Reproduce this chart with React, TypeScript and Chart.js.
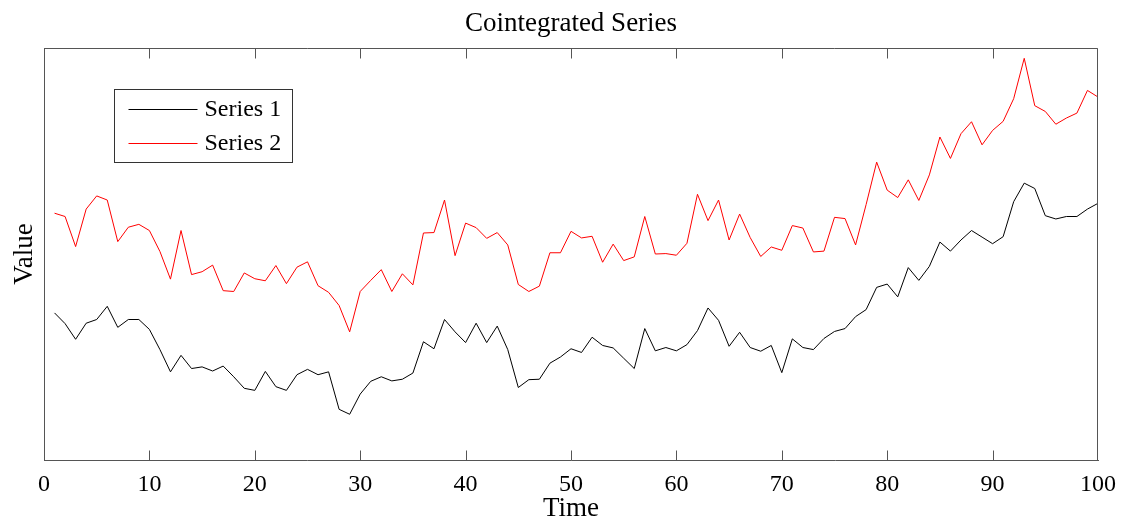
import { useEffect, useRef } from "react";
import { Chart, registerables } from "chart.js";

Chart.register(...registerables);

const timeSteps = [
  1, 2, 3, 4, 5, 6, 7, 8, 9, 10, 11, 12, 13, 14, 15, 16, 17, 18, 19, 20,
  21, 22, 23, 24, 25, 26, 27, 28, 29, 30, 31, 32, 33, 34, 35, 36, 37, 38, 39, 40,
  41, 42, 43, 44, 45, 46, 47, 48, 49, 50, 51, 52, 53, 54, 55, 56, 57, 58, 59, 60,
  61, 62, 63, 64, 65, 66, 67, 68, 69, 70, 71, 72, 73, 74, 75, 76, 77, 78, 79, 80,
  81, 82, 83, 84, 85, 86, 87, 88, 89, 90, 91, 92, 93, 94, 95, 96, 97, 98, 99, 100,
];

const series1 = [
  3.57, 3.31, 2.93, 3.32, 3.41, 3.73, 3.22, 3.41, 3.41, 3.17,
  2.68, 2.14, 2.54, 2.22, 2.26, 2.16, 2.28, 2.02, 1.74, 1.69,
  2.15, 1.78, 1.69, 2.07, 2.2, 2.07, 2.14, 1.23, 1.11, 1.6,
  1.91, 2.02, 1.92, 1.96, 2.11, 2.87, 2.7, 3.41, 3.11, 2.85,
  3.32, 2.85, 3.25, 2.68, 1.76, 1.95, 1.96, 2.35, 2.5, 2.7,
  2.61, 2.98, 2.78, 2.72, 2.47, 2.22, 3.19, 2.65, 2.73, 2.65,
  2.8, 3.14, 3.69, 3.39, 2.76, 3.1, 2.73, 2.64, 2.78, 2.12,
  2.94, 2.73, 2.68, 2.95, 3.12, 3.19, 3.48, 3.65, 4.19, 4.27,
  3.96, 4.67, 4.36, 4.7, 5.29, 5.07, 5.34, 5.57, 5.41, 5.25,
  5.42, 6.27, 6.72, 6.59, 5.93, 5.85, 5.91, 5.91, 6.09, 6.23,
];

const series2 = [
  5.99, 5.91, 5.18, 6.09, 6.41, 6.31, 5.3, 5.65, 5.72, 5.57,
  5.06, 4.39, 5.57, 4.5, 4.57, 4.73, 4.11, 4.09, 4.54, 4.4,
  4.35, 4.72, 4.28, 4.68, 4.81, 4.23, 4.07, 3.75, 3.11, 4.09,
  4.36, 4.62, 4.09, 4.52, 4.25, 5.51, 5.52, 6.31, 4.96, 5.75,
  5.64, 5.38, 5.52, 5.22, 4.26, 4.09, 4.22, 5.03, 5.03, 5.55,
  5.39, 5.43, 4.8, 5.24, 4.84, 4.93, 5.91, 5.0, 5.01, 4.97,
  5.26, 6.45, 5.81, 6.31, 5.34, 5.97, 5.4, 4.94, 5.17, 5.09,
  5.69, 5.63, 5.05, 5.07, 5.89, 5.86, 5.22, 6.2, 7.23, 6.55,
  6.37, 6.8, 6.3, 6.92, 7.84, 7.32, 7.92, 8.21, 7.65, 8.0,
  8.22, 8.77, 9.75, 8.6, 8.46, 8.15, 8.3, 8.42, 8.97, 8.81,
];

const xTickValues = [0, 10, 20, 30, 40, 50, 60, 70, 80, 90, 100];
const seriesNames = ["Series 1", "Series 2"];
const seriesColors = ["#000000", "#ff0000"];
const chartTitle = "Cointegrated Series";

const FONT = "'Liberation Serif', 'Times New Roman', Times, serif";
const AXIS_COLOR = "#555555";

export default function App() {
  const ref = useRef<HTMLCanvasElement>(null);

  useEffect(() => {
    document.body.style.margin = "0";
    const canvas = ref.current;
    if (!canvas) return;

    const framePlugin = {
      id: "framePlugin",
      afterDatasetsDraw(chart: any) {
        const { ctx, chartArea } = chart;
        const xs = chart.scales.x;
        const top = Math.round(chartArea.top) + 0.5;
        const bottom = Math.round(chartArea.bottom) + 0.5;
        const left = Math.round(chartArea.left) + 0.5;
        const right = Math.round(chartArea.right) - 0.5;
        ctx.save();
        ctx.strokeStyle = AXIS_COLOR;
        ctx.lineWidth = 1;
        ctx.beginPath();
        ctx.moveTo(left, top);
        ctx.lineTo(right, top);
        ctx.lineTo(right, bottom);
        ctx.stroke();
        ctx.beginPath();
        for (const v of xTickValues) {
          let px = Math.round(xs.getPixelForValue(v)) + 0.5;
          if (px > right) px = right;
          ctx.moveTo(px, top);
          ctx.lineTo(px, top + 10);
          ctx.moveTo(px, bottom);
          ctx.lineTo(px, bottom - 10);
        }
        ctx.stroke();

        // title
        ctx.fillStyle = "#000000";
        ctx.font = `27px ${FONT}`;
        ctx.textAlign = "center";
        ctx.textBaseline = "alphabetic";
        ctx.fillText(chartTitle, (chartArea.left + chartArea.right) / 2, 31);

        // legend box
        const bx = Math.round(chartArea.left) + 70.5;
        const by = Math.round(chartArea.top) + 41.5;
        const bw = 178;
        const bh = 73;
        ctx.fillStyle = "#ffffff";
        ctx.fillRect(bx, by, bw, bh);
        ctx.strokeStyle = "#333333";
        ctx.strokeRect(bx, by, bw, bh);
        ctx.font = `24px ${FONT}`;
        ctx.textBaseline = "middle";
        ctx.textAlign = "left";
        seriesNames.forEach((name, i) => {
          const ly = by + 20 + i * 34;
          ctx.strokeStyle = seriesColors[i];
          ctx.beginPath();
          ctx.moveTo(bx + 14, ly);
          ctx.lineTo(bx + 83, ly);
          ctx.stroke();
          ctx.fillStyle = "#000000";
          ctx.fillText(name, bx + 90, ly);
        });
        ctx.restore();
      },
    };

    const chart = new Chart(canvas, {
      type: "line",
      data: {
        labels: timeSteps,
        datasets: [
          {
            label: seriesNames[0],
            data: timeSteps.map((t, i) => ({ x: t, y: series1[i] })),
            borderColor: seriesColors[0],
            borderWidth: 1,
            pointRadius: 0,
            tension: 0,
            fill: false,
          },
          {
            label: seriesNames[1],
            data: timeSteps.map((t, i) => ({ x: t, y: series2[i] })),
            borderColor: seriesColors[1],
            borderWidth: 1,
            pointRadius: 0,
            tension: 0,
            fill: false,
          },
        ],
      },
      options: {
        responsive: false,
        animation: false,
        layout: { padding: { top: 48, right: 24, left: 0, bottom: 0 } },
        plugins: {
          legend: { display: false },
          tooltip: { enabled: false },
          title: { display: false },
        },
        scales: {
          x: {
            type: "linear",
            min: 0,
            max: 100,
            afterBuildTicks: (scale: any) => {
              scale.ticks = xTickValues.map((v) => ({ value: v }));
            },
            afterFit: (scale: any) => {
              scale.height = 65;
              scale.paddingLeft = 0;
              scale.paddingRight = 0;
            },
            grid: { display: false, drawTicks: false },
            border: { display: true, color: AXIS_COLOR, width: 1 },
            ticks: {
              color: "#000000",
              font: { family: FONT, size: 24 },
              padding: 10,
              maxRotation: 0,
              autoSkip: false,
            },
            title: {
              display: true,
              text: "Time",
              color: "#000000",
              font: { family: FONT, size: 27 },
              padding: { top: 0, bottom: 0 },
            },
          },
          y: {
            type: "linear",
            min: 0,
            max: 10,
            afterFit: (scale: any) => {
              scale.width = 44;
              scale.paddingTop = 0;
              scale.paddingBottom = 0;
            },
            grid: { display: false, drawTicks: false },
            border: { display: true, color: AXIS_COLOR, width: 1 },
            ticks: { display: false },
            title: {
              display: true,
              text: "Value",
              color: "#000000",
              font: { family: FONT, size: 27 },
              padding: { top: 9, bottom: 0 },
            },
          },
        },
      },
      plugins: [framePlugin],
    });

    return () => {
      chart.destroy();
    };
  }, []);

  return (
    <div style={{ width: 1122, height: 525 }}>
      <canvas ref={ref} width={1122} height={525} />
    </div>
  );
}
